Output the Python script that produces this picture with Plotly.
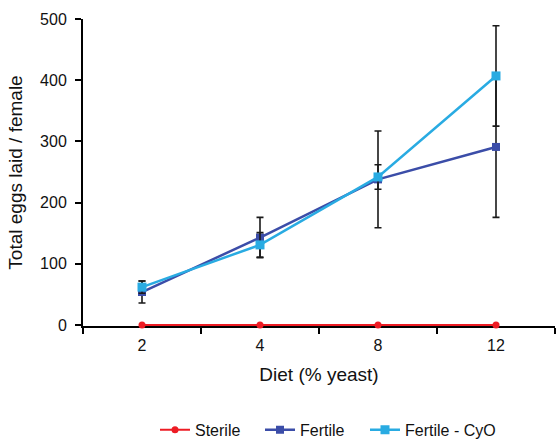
import plotly.graph_objects as go

diet = ["2", "4", "8", "12"]
sterile = [0, 0, 0, 0]
fertile = [54, 143, 238, 291]
fertile_err = [18, 33, 79, 115]
cyo = [62, 131, 242, 407]
cyo_err = [10, 20, 20, 82]

FONT = "Liberation Sans, Arial, sans-serif"

fig = go.Figure()
fig.add_trace(go.Scatter(
    x=diet, y=sterile, name="Sterile", mode="lines+markers",
    line=dict(color="#ED1C24", width=2),
    marker=dict(symbol="circle", size=7, color="#ED1C24"),
    cliponaxis=False, legend="legend",
))
fig.add_trace(go.Scatter(
    x=diet, y=fertile, name="Fertile", mode="lines+markers",
    line=dict(color="#3B4DA8", width=2.5),
    marker=dict(symbol="square", size=8, color="#3B4DA8"),
    error_y=dict(type="data", array=fertile_err, visible=True,
                 color="#1a1a1a", thickness=1.6, width=3.5),
    legend="legend2",
))
fig.add_trace(go.Scatter(
    x=diet, y=cyo, name="Fertile - CyO", mode="lines+markers",
    line=dict(color="#29ABE2", width=2.5),
    marker=dict(symbol="square", size=9, color="#29ABE2"),
    error_y=dict(type="data", array=cyo_err, visible=True,
                 color="#1a1a1a", thickness=1.6, width=3.5),
    legend="legend3",
))

LEG_Y = -0.338


def leg(xpix):
    return dict(orientation="h", x=(xpix - 83) / 472, xanchor="left",
                y=LEG_Y, yanchor="middle", font=dict(size=16),
                itemwidth=30, bgcolor="rgba(0,0,0,0)")


fig.update_layout(
    width=557, height=439,
    margin=dict(l=83, r=2, t=19, b=113, autoexpand=False),
    paper_bgcolor="white", plot_bgcolor="white",
    font=dict(family=FONT, size=16, color="#111"),
    showlegend=True,
    legend=leg(155), legend2=leg(260), legend3=leg(365),
    xaxis=dict(
        type="category", range=[-0.5, 3.5], tickson="boundaries",
        showline=True, linecolor="black", linewidth=2,
        ticks="outside", ticklen=6, tickwidth=2, tickcolor="black",
        showgrid=False, zeroline=False, ticklabelstandoff=4,
        layer="below traces",
        title=dict(text="Diet (% yeast)", standoff=14),
    ),
    yaxis=dict(
        range=[-1.5, 500], tickvals=[0, 100, 200, 300, 400, 500],
        showline=True, linecolor="black", linewidth=2,
        ticks="outside", ticklen=6, tickwidth=2, tickcolor="black",
        showgrid=False, zeroline=False, ticklabelstandoff=5,
        layer="below traces",
        title=dict(text="Total eggs laid / female", standoff=12),
    ),
)

fig.write_html("out.html")
